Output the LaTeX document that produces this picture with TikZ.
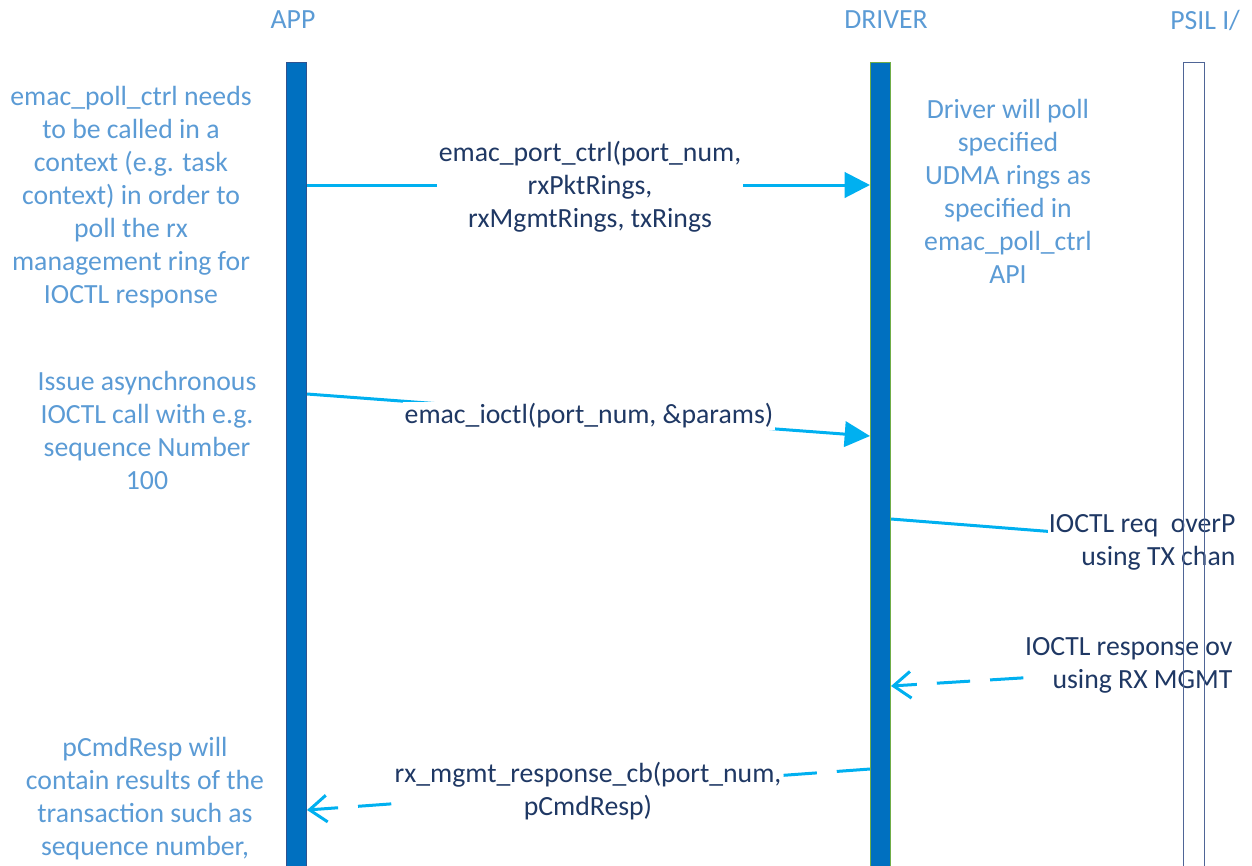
\documentclass[tikz,border=0pt]{standalone}
\usepackage{fontspec}
\setmainfont{Carlito}
\usetikzlibrary{arrows.meta}

\definecolor{barblue}{HTML}{0070C0}
\definecolor{headblue}{HTML}{5B9BD5}
\definecolor{msgnavy}{HTML}{1F3864}
\definecolor{flowcyan}{HTML}{00B0F0}
\definecolor{appedge}{HTML}{2F528F}
\definecolor{drvedge}{HTML}{70AD47}
\definecolor{psiledge}{HTML}{4F6596}

\tikzset{
  lifeline/.style={rectangle, inner sep=0pt, minimum width=15pt,
    minimum height=603pt, anchor=north, line width=0.75pt},
  heading/.style={text=headblue, inner sep=0pt},
  remark/.style={text=headblue, align=center, inner sep=0pt},
  msglabel/.style={text=msgnavy, align=center, fill=white,
    inner xsep=1pt, inner ysep=1pt},
  psillabel/.style={text=msgnavy, align=right, fill=white,
    inner xsep=1pt, inner ysep=1pt, anchor=east},
  callarrow/.style={draw=flowcyan, line width=2.25pt,
    -{Triangle[length=19pt, width=19pt]}},
  plainflow/.style={draw=flowcyan, line width=2.25pt},
  replyarrow/.style={draw=flowcyan, line width=2.25pt,
    dash pattern=on 25pt off 15pt,
    -{Straight Barb[length=13pt, width=20pt, line width=2.25pt]}},
}

\begin{document}
\begin{tikzpicture}[x=0.75pt, y=-0.75pt,
  font=\fontsize{20.8}{24.75}\selectfont]
\useasboundingbox (0,0) rectangle (1252,865);

% lifeline headings
\node[heading] (happ) at (293,20) {APP};
\node[heading] (hdrv) at (886,20) {DRIVER};
\node[heading, anchor=west] (hpsil) at (1170,20) {PSIL I/};

% lifelines
\node[lifeline, draw=appedge, fill=barblue] (app) at (296.5,62) {};
\node[lifeline, draw=drvedge, fill=barblue] (drv) at (880.5,62) {};

% remarks beside the lifelines
\node[remark] (n1) at (131,197) {emac\_poll\_ctrl needs\\to be called in a\\context (e.g. task\\context) in order to\\poll the rx\\management ring for\\IOCTL response};
\node[remark] (n2) at (1008,191) {Driver will poll\\specified\\UDMA rings as\\specified in\\emac\_poll\_ctrl\\API};
\node[remark] (n3) at (147,430) {Issue asynchronous\\IOCTL call with e.g.\\sequence Number\\100};
\node[remark] (n4) at (145,799) {pCmdResp will\\contain results of the\\transaction such as\\sequence number,};

% points where the flows meet the PSIL lifeline
\coordinate (psilreq) at (1183,542);
\coordinate (psilresp) at (1183,668);

% emac_port_ctrl
\draw[callarrow] (app.east |- 0,185) -- (drv.west |- 0,185);
\node[msglabel] (m1) at (590,187) {emac\_port\_ctrl(port\_num,\\rxPktRings,\\rxMgmtRings, txRings};

% emac_ioctl
\draw[callarrow] (app.east |- 0,394) -- (drv.west |- 0,436);
\node[msglabel] (m2) at (589,416) {emac\_ioctl(port\_num, \&params)};

% IOCTL request towards PSIL
\draw[plainflow] (drv.east |- 0,519) -- (psilreq);
\node[psillabel] (m3) at (1237,542) {IOCTL req\ \ overP\\using TX chan};

% IOCTL response from PSIL
\draw[replyarrow] (psilresp) -- (drv.east |- 0,686);
\node[psillabel] (m4) at (1234,665) {IOCTL response ov\\using RX MGMT};

% callback to the application
\draw[replyarrow] (drv.west |- 0,769) -- (app.east |- 0,810);
\node[msglabel] (m5) at (588,791) {rx\_mgmt\_response\_cb(port\_num,\\pCmdResp)};

% PSIL lifeline drawn last, outline only
\node[lifeline, draw=psiledge, line width=1.1pt, minimum width=16pt] (psil) at (1194,62) {};
\end{tikzpicture}
\end{document}
